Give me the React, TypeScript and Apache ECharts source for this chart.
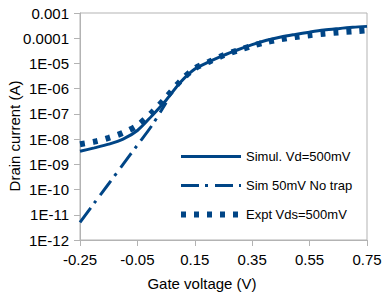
import React, { useEffect, useRef } from "react";
import * as echarts from "echarts";

const gateVoltage = [-0.25, -0.2, -0.15, -0.1, -0.05, 0.0, 0.05, 0.1, 0.15, 0.2, 0.25, 0.3, 0.35, 0.4, 0.45, 0.5, 0.55, 0.6, 0.65, 0.7, 0.75];

const simulVd500 = [3.3e-9, 4.5e-9, 6.3e-9, 1.0e-8, 2.2e-8, 8.3e-8, 3.5e-7, 1.8e-6, 6.0e-6, 1.17e-5, 2.1e-5, 3.5e-5, 5.6e-5, 8.3e-5, 1.12e-4, 1.41e-4, 1.74e-4, 2.1e-4, 2.4e-4, 2.7e-4, 2.95e-4];

const sim50NoTrapVoltage = [-0.25, -0.2, -0.15, -0.1, -0.05, 0.0, 0.05];
const sim50NoTrap = [5.0e-12, 2.95e-11, 1.7e-10, 1.0e-9, 5.8e-9, 3.4e-8, 2.8e-7];

const exptVds500 = [6.3e-9, 7.9e-9, 1.12e-8, 1.78e-8, 3.5e-8, 1.12e-7, 4.5e-7, 2.0e-6, 6.3e-6, 1.17e-5, 2.1e-5, 3.3e-5, 5.0e-5, 7.1e-5, 9.1e-5, 1.12e-4, 1.32e-4, 1.51e-4, 1.7e-4, 1.86e-4, 2.04e-4];

const seriesNames = ["Simul. Vd=500mV", "Sim 50mV No trap", "Expt Vds=500mV"];
const xTitle = "Gate voltage (V)";
const yTitle = "Drain current (A)";

const COLOR = "#004586";
const AXIS = "#b3b3b3";
const FONT = "Liberation Sans";

const solidStyle = { color: COLOR, width: 3, type: "solid", cap: "butt" };
const dashDotStyle = { color: COLOR, width: 3, type: [18, 6, 3, 7], cap: "butt" };
const squareDotStyle = { color: COLOR, width: 6, type: [5, 8], cap: "butt" };

function yLabel(v: number): string {
  const e = Math.round(Math.log10(v));
  if (e >= -4) return v.toFixed(-e);
  return "1E-" + String(-e).padStart(2, "0");
}

export default function App() {
  const ref = useRef<HTMLDivElement>(null);
  useEffect(() => {
    if (!ref.current) return;
    const chart = echarts.init(ref.current, null, { renderer: "svg" });
    const pair = (xs: number[], ys: number[]) => xs.map((x, i) => [x, ys[i]]);
    const styles = [solidStyle, dashDotStyle, squareDotStyle];
    chart.setOption({
      animation: false,
      textStyle: { fontFamily: FONT },
      grid: {
        left: 80,
        right: 20,
        top: 13,
        bottom: 54,
        show: true,
        borderColor: AXIS,
        borderWidth: 1,
        containLabel: false,
      },
      xAxis: {
        type: "value",
        min: -0.25,
        max: 0.75,
        interval: 0.2,
        axisLine: { show: true, onZero: false, lineStyle: { color: AXIS, width: 1 } },
        axisTick: { show: true, length: 6, lineStyle: { color: AXIS } },
        splitLine: { show: false },
        axisLabel: {
          fontSize: 15,
          color: "#000",
          fontFamily: FONT,
          margin: 12,
          formatter: (v: number) => v.toFixed(2),
        },
      },
      yAxis: {
        type: "log",
        logBase: 10,
        min: 1e-12,
        max: 1e-3,
        axisLine: { show: true, onZero: false, lineStyle: { color: AXIS, width: 1 } },
        axisTick: { show: true, length: 6, lineStyle: { color: AXIS } },
        splitLine: { show: false },
        minorTick: { show: false },
        axisLabel: {
          fontSize: 15,
          color: "#000",
          fontFamily: FONT,
          margin: 11,
          formatter: yLabel,
        },
      },
      legend: {
        data: seriesNames.map((name, i) => ({
          name,
          lineStyle: { ...styles[i] },
        })),
        orient: "vertical",
        left: 178,
        top: 150,
        padding: 0,
        itemWidth: 60,
        itemHeight: 14,
        itemGap: 16,
        itemStyle: { opacity: 0 },
        textStyle: { fontSize: 13, color: "#000", fontFamily: FONT },
      },
      graphic: [
        {
          type: "text",
          x: 202,
          y: 283,
          style: {
            text: xTitle,
            fontSize: 15,
            fontFamily: FONT,
            fill: "#000",
            textAlign: "center",
            textVerticalAlign: "middle",
          },
        },
        {
          type: "text",
          x: 14,
          y: 136,
          rotation: Math.PI / 2,
          style: {
            text: yTitle,
            fontSize: 15,
            fontFamily: FONT,
            fill: "#000",
            textAlign: "center",
            textVerticalAlign: "middle",
          },
        },
      ],
      series: [
        {
          name: seriesNames[0],
          type: "line",
          data: pair(gateVoltage, simulVd500),
          symbol: "none",
          smooth: 0.3,
          lineStyle: solidStyle,
          itemStyle: { color: COLOR },
        },
        {
          name: seriesNames[1],
          type: "line",
          data: pair(sim50NoTrapVoltage, sim50NoTrap),
          symbol: "none",
          smooth: 0.3,
          lineStyle: dashDotStyle,
          itemStyle: { color: COLOR },
        },
        {
          name: seriesNames[2],
          type: "line",
          data: pair(gateVoltage, exptVds500),
          symbol: "none",
          smooth: 0.3,
          lineStyle: squareDotStyle,
          itemStyle: { color: COLOR },
        },
      ],
    });
    return () => chart.dispose();
  }, []);
  return <div ref={ref} style={{ width: 387, height: 294, position: "absolute", left: 0, top: 0 }} />;
}
